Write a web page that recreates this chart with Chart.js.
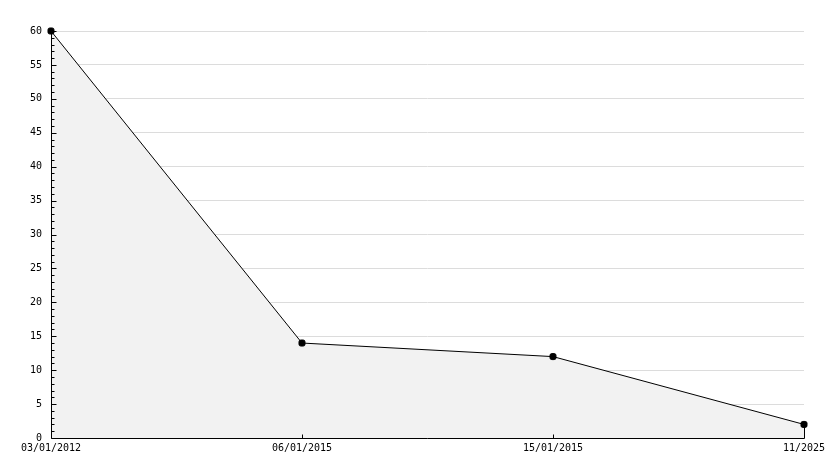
<!DOCTYPE html>
<html>
<head>
<meta charset="utf-8">
<script src="https://cdn.jsdelivr.net/npm/chart.js@4"></script>
<style>
 body { margin: 0; background: #fff; }
 #wrap { width: 834px; height: 468px; }
</style>
</head>
<body>
<div id="wrap"><canvas id="chartCanvas"></canvas></div>
<script>
const labels = ['03/01/2012', '06/01/2015', '15/01/2015', '11/2025'];
const valores = [60, 14, 12, 2];
const yMax = 60;
const yStep = 5;

// ticks hacia dentro del area y ejes encima del relleno, como en el original
const ticksPlugin = {
 id: 'ticksDentro',
 afterDatasetsDraw(chart) {
     const { ctx, chartArea, scales } = chart;
     const y = scales.y, x = scales.x;
     const left = Math.round(chartArea.left) + 0.5;
     const bottom = Math.round(chartArea.bottom) + 0.5;
     ctx.save();
     ctx.strokeStyle = '#000';
     ctx.lineWidth = 1;
     ctx.beginPath();
     // ejes
     ctx.moveTo(left, chartArea.top);
     ctx.lineTo(left, bottom);
     ctx.lineTo(chartArea.right, bottom);
     for (let v = 0; v <= yMax; v++) {
         const py = Math.round(y.getPixelForValue(v)) + 0.5;
         const len = v % yStep === 0 ? 5 : 3;
         ctx.moveTo(left, py);
         ctx.lineTo(left + len, py);
     }
     for (let i = 1; i < labels.length; i++) {
         const px = Math.round(x.getPixelForValue(i)) + 0.5;
         ctx.moveTo(px, bottom);
         ctx.lineTo(px, bottom - 4);
     }
     // borde derecho del relleno
     const last = labels.length - 1;
     const rx = Math.round(x.getPixelForValue(last)) + 0.5;
     ctx.moveTo(rx, y.getPixelForValue(valores[last]));
     ctx.lineTo(rx, bottom);
     ctx.stroke();
     ctx.restore();
 }
};

new Chart(document.getElementById('chartCanvas').getContext('2d'), {
 type: 'line',
 data: {
     labels: labels,
     datasets: [{
         data: valores,
         clip: false,
         borderColor: '#000',
         borderWidth: 1,
         backgroundColor: '#f2f2f2',
         fill: 'origin',
         tension: 0,
         pointStyle: 'rectRounded',
         pointRadius: 3.5,
         pointBackgroundColor: '#000',
         pointBorderColor: '#000',
         pointBorderWidth: 1
     }]
 },
 plugins: [ticksPlugin],
 options: {
     responsive: true,
     maintainAspectRatio: false,
     animation: false,
     layout: { padding: { top: 31, right: 30, left: 0, bottom: 0 } },
     plugins: {
         legend: { display: false },
         tooltip: { enabled: false }
     },
     scales: {
         x: {
             offset: false,
             grid: { display: false, drawTicks: false },
             border: { display: false },
             ticks: {
                 color: '#000',
                 font: { family: 'DejaVu Sans Mono', size: 10 },
                 padding: 4,
                 maxRotation: 0,
                 autoSkip: false
             },
             afterFit(s) { s.height = 30; }
         },
         y: {
             min: 0,
             max: yMax,
             grid: {
                 color: c => c.tick.value === 0 ? 'rgba(0,0,0,0)' : '#dcdcdc',
                 drawTicks: false
             },
             border: { display: false },
             ticks: {
                 stepSize: yStep,
                 color: '#000',
                 font: { family: 'DejaVu Sans Mono', size: 10 },
                 padding: 9
             },
             afterFit(s) { s.width = 51; }
         }
     }
 }
});
</script>
</body>
</html>
